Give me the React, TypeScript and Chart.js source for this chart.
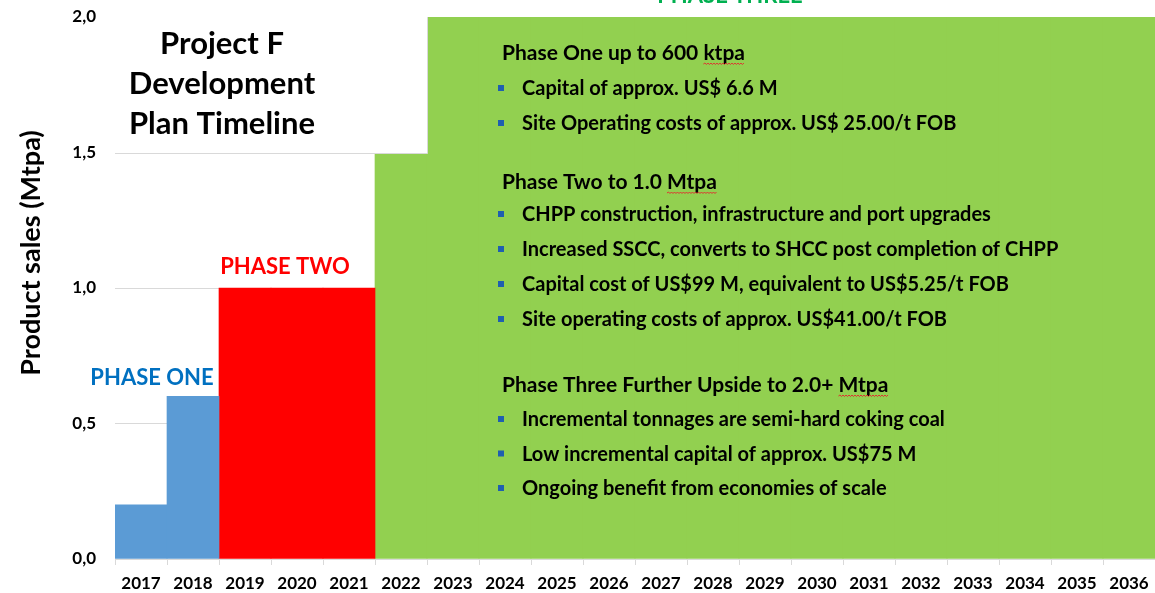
import React, { useEffect, useRef } from 'react';
import { Chart, registerables } from 'chart.js';

Chart.register(...registerables);

const years = ['2017', '2018', '2019', '2020', '2021', '2022', '2023', '2024', '2025', '2026', '2027', '2028', '2029', '2030', '2031', '2032', '2033', '2034', '2035', '2036'];
const phaseOneValues = [0.2, 0.6, null, null, null, null, null, null, null, null, null, null, null, null, null, null, null, null, null, null];
const phaseTwoValues = [null, null, 1.0, 1.0, 1.0, null, null, null, null, null, null, null, null, null, null, null, null, null, null, null];
const phaseThreeValues = [null, null, null, null, null, 1.5, 2.0, 2.0, 2.0, 2.0, 2.0, 2.0, 2.0, 2.0, 2.0, 2.0, 2.0, 2.0, 2.0, 2.0];
const yTickValues = [0, 0.5, 1.0, 1.5, 2.0];

const titleLines = ['Project F', 'Development', 'Plan Timeline'];
const phaseOneNotes = ['Capital of approx. US$ 6.6 M', 'Site Operating costs of approx. US$ 25.00/t FOB'];
const phaseTwoNotes = [
  'CHPP construction, infrastructure and port upgrades',
  'Increased SSCC, converts to SHCC post completion of CHPP',
  'Capital cost of US$99 M, equivalent to US$5.25/t FOB',
  'Site operating costs of approx. US$41.00/t FOB',
];
const phaseThreeNotes = [
  'Incremental tonnages are semi-hard coking coal',
  'Low incremental capital of approx. US$75 M',
  'Ongoing benefit from economies of scale',
];

const FONT = 'Lato, "Open Sans", sans-serif';
const GRID = '#d9d9d9';

function wavy(ctx: CanvasRenderingContext2D, x1: number, x2: number, y: number) {
  ctx.save();
  ctx.strokeStyle = '#e03030';
  ctx.lineWidth = 1;
  ctx.beginPath();
  let up = true;
  ctx.moveTo(x1, y);
  for (let x = x1 + 1.5; x <= x2; x += 1.5) {
    ctx.lineTo(x, up ? y - 1 : y + 0.5);
    up = !up;
  }
  ctx.stroke();
  ctx.restore();
}

function heading(ctx: CanvasRenderingContext2D, text: string, x: number, y: number, wavyWord?: string) {
  ctx.font = `bold 21px ${FONT}`;
  ctx.fillStyle = '#000';
  ctx.textAlign = 'left';
  ctx.textBaseline = 'middle';
  ctx.fillText(text, x, y);
  if (wavyWord) {
    const idx = text.lastIndexOf(wavyWord);
    const start = x + ctx.measureText(text.slice(0, idx)).width;
    const end = start + ctx.measureText(wavyWord).width;
    wavy(ctx, start, end, y + 11);
  }
}

function bullets(ctx: CanvasRenderingContext2D, items: string[], x: number, y0: number, dy: number) {
  items.forEach((t, i) => {
    const y = y0 + i * dy;
    ctx.fillStyle = '#1f5fb0';
    ctx.fillRect(x - 24, y - 4, 6, 6);
    ctx.font = `bold 20px ${FONT}`;
    ctx.fillStyle = '#000';
    ctx.textAlign = 'left';
    ctx.textBaseline = 'middle';
    ctx.fillText(t, x, y);
  });
}

const annotationPlugin = {
  id: 'annotations',
  afterDatasetsDraw(chart: any) {
    const { ctx, scales, chartArea } = chart;
    const x = scales.x;
    const y = scales.y;
    ctx.save();

    // title box
    const boxRight = Math.round((x.getPixelForValue(5) + x.getPixelForValue(6)) / 2) + 0.5;
    const boxTop = y.getPixelForValue(2.0);
    const boxBottom = Math.round(y.getPixelForValue(1.5)) + 0.5;
    ctx.fillStyle = '#ffffff';
    ctx.fillRect(chartArea.left, boxTop, boxRight - chartArea.left, boxBottom - boxTop);
    ctx.strokeStyle = GRID;
    ctx.lineWidth = 1;
    ctx.beginPath();
    ctx.moveTo(chartArea.left, boxBottom);
    ctx.lineTo(boxRight, boxBottom);
    ctx.lineTo(boxRight, boxTop);
    ctx.stroke();

    ctx.font = `bold 31px ${FONT}`;
    ctx.fillStyle = '#000';
    ctx.textAlign = 'center';
    ctx.textBaseline = 'middle';
    titleLines.forEach((l, i) => ctx.fillText(l, 222, 44 + i * 40));

    // phase labels
    ctx.font = `bold 22px ${FONT}`;
    ctx.fillStyle = '#0070c0';
    ctx.fillText('PHASE ONE', 152, 378);
    ctx.fillStyle = '#ff0000';
    ctx.fillText('PHASE TWO', 285, 267);
    ctx.fillStyle = '#00b050';
    ctx.fillText('PHASE THREE', 730, -4);

    // notes
    heading(ctx, 'Phase One up to 600 ktpa', 502, 53, 'ktpa');
    bullets(ctx, phaseOneNotes, 522, 89, 35);
    heading(ctx, 'Phase Two to 1.0 Mtpa', 502, 182, 'Mtpa');
    bullets(ctx, phaseTwoNotes, 522, 215, 35);
    heading(ctx, 'Phase Three Further Upside to 2.0+ Mtpa', 502, 385, 'Mtpa');
    bullets(ctx, phaseThreeNotes, 522, 420, 34.5);

    // y-axis title
    ctx.save();
    ctx.translate(31, 253);
    ctx.rotate(-Math.PI / 2);
    ctx.font = `bold 27px ${FONT}`;
    ctx.fillStyle = '#000';
    ctx.textAlign = 'center';
    ctx.textBaseline = 'middle';
    ctx.fillText('Product sales (Mtpa)', 0, 0);
    ctx.restore();

    ctx.restore();
  },
};

export default function App() {
  const canvasRef = useRef<HTMLCanvasElement | null>(null);

  useEffect(() => {
    document.body.style.margin = '0';
    const canvas = canvasRef.current;
    if (!canvas) return;
    const chart = new Chart(canvas, {
      type: 'bar',
      data: {
        labels: years,
        datasets: [
          { label: 'Phase One', data: phaseOneValues, backgroundColor: '#5b9bd5', barPercentage: 1, categoryPercentage: 1 },
          { label: 'Phase Two', data: phaseTwoValues, backgroundColor: '#ff0000', barPercentage: 1, categoryPercentage: 1 },
          { label: 'Phase Three', data: phaseThreeValues, backgroundColor: '#92d050', barPercentage: 1, categoryPercentage: 1 },
        ],
      },
      options: {
        responsive: false,
        animation: false,
        layout: { padding: { top: 17, left: 0, right: 0, bottom: 0 } },
        plugins: { legend: { display: false }, tooltip: { enabled: false }, title: { display: false } },
        scales: {
          x: {
            stacked: true,
            afterFit: (s: any) => { s.height = 34; s.paddingLeft = 0; s.paddingRight = 0; },
            grid: { display: true, drawOnChartArea: false, drawTicks: true, tickLength: 6, color: GRID, offset: true },
            border: { display: true, color: GRID },
            ticks: { color: '#000', font: { family: FONT, size: 17, weight: 'bold' }, padding: 8, maxRotation: 0, autoSkip: false },
          },
          y: {
            stacked: true,
            min: 0,
            max: 2,
            afterFit: (s: any) => { s.width = 115; s.paddingTop = 0; s.paddingBottom = 0; },
            afterBuildTicks: (s: any) => { s.ticks = yTickValues.map((v) => ({ value: v })); },
            grid: { color: GRID, drawTicks: false },
            border: { display: false },
            ticks: {
              color: '#000',
              padding: 19,
              font: { family: FONT, size: 17, weight: 'bold' },
              callback: (v: any) => Number(v).toFixed(1).replace('.', ','),
            },
          },
        },
      },
      plugins: [annotationPlugin],
    } as any);
    return () => chart.destroy();
  }, []);

  return (
    <div style={{ width: 1155, height: 593 }}>
      <canvas ref={canvasRef} width={1155} height={593} style={{ display: 'block' }} />
    </div>
  );
}
